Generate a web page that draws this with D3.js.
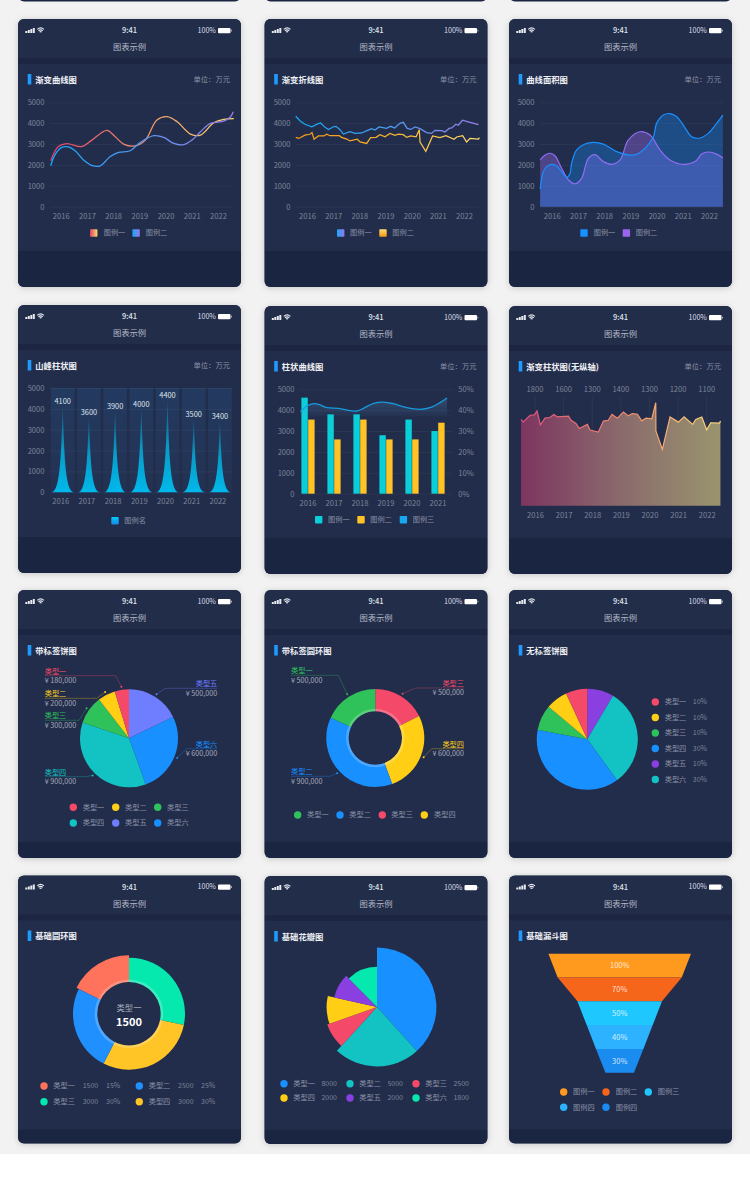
<!DOCTYPE html>
<html>
<head>
<meta charset="utf-8">
<script src="https://cdn.jsdelivr.net/npm/d3@7/dist/d3.min.js"></script>
<style>
html,body{margin:0;padding:0;background:#fff}
svg{display:block}
text{font-family:"Noto Sans CJK SC","Noto Sans",sans-serif}
</style>
</head>
<body>
<div id="canvas"></div>
<script>
// values
const years = [2016,2017,2018,2019,2020,2021,2022]
const yTicks = [0,1000,2000,3000,4000,5000]

const curveAYears = [2015.62,2015.91,2016.23,2016.8,2017.19,2017.76,2018.08,2018.4,2018.84,2019.23,2019.67,2020.06,2020.44,2020.95,2021.33,2021.84,2022.22,2022.6]
const curveAValues = [2200,2880,3020,2880,3190,3660,3350,3000,2910,3190,4150,4310,4070,3480,3430,4020,4180,4220]
const curveBYears = [2015.62,2015.78,2016.04,2016.29,2016.55,2016.87,2017.25,2017.51,2017.89,2018.21,2018.65,2019.04,2019.55,2019.93,2020.31,2020.69,2021.01,2021.33,2021.71,2022.22,2022.48,2022.58]
const curveBValues = [1960,2480,2840,2860,2680,2240,1950,1960,2400,2600,2680,3080,3400,3320,3030,2970,3190,3590,3990,4100,4310,4550]

const foldAYears = [2015.57,2015.73,2015.92,2016.18,2016.43,2016.52,2016.69,2016.82,2017.01,2017.11,2017.26,2017.39,2017.64,2017.83,2018.09,2018.34,2018.47,2018.6,2018.75,2019.04,2019.2,2019.35,2019.55,2019.68,2019.83,2019.96,2020.13,2020.32,2020.57,2020.76,2020.89,2021.15,2021.27,2021.43,2021.53,2021.69,2021.78,2021.94,2022.1,2022.55]
const foldAValues = [4330,4120,3950,3830,3980,4010,3800,3700,3830,3850,3690,3480,3590,3510,3530,3670,3740,3670,3820,3750,3850,3770,3990,4040,3750,3700,3820,3740,3550,3510,3660,3640,3580,3750,3770,3950,3900,4140,4090,3930]
const foldBYears = [2015.57,2015.69,2015.92,2016.11,2016.19,2016.27,2016.43,2016.65,2016.75,2016.88,2017.24,2017.32,2017.52,2017.64,2017.92,2018.03,2018.28,2018.43,2018.64,2018.79,2018.98,2019.17,2019.36,2019.49,2019.68,2019.81,2019.96,2020.17,2020.29,2020.32,2020.54,2020.8,2021.08,2021.31,2021.62,2021.72,2021.95,2022.1,2022.23,2022.55,2022.59]
const foldBValues = [3320,3270,3430,3470,3550,3230,3390,3390,3470,3400,3400,3320,3240,3150,3230,3100,3030,3310,3320,3450,3350,3510,3420,3470,3450,3320,3390,3350,3690,3100,2650,3390,3310,3400,3230,3340,3400,3100,3270,3240,3310]

const areaAYears = [2015.56,2015.68,2015.81,2016,2016.19,2016.38,2016.57,2016.7,2016.76,2016.95,2017.27,2017.59,2017.97,2018.48,2018.92,2019.24,2019.62,2019.88,2020,2020.26,2020.51,2020.77,2021.02,2021.34,2021.66,2021.97,2022.29,2022.53]
const areaAValues = [850,1680,1920,2030,1960,1680,1400,1600,2080,2720,3000,3080,3000,2640,2480,2510,2880,3350,3990,4390,4460,4310,3910,3350,3290,3510,3990,4390]
const areaBYears = [2015.56,2015.75,2015.94,2016.13,2016.38,2016.64,2016.89,2017.14,2017.4,2017.65,2017.97,2018.29,2018.61,2018.92,2019.37,2019.75,2020.13,2020.51,2021.02,2021.47,2021.72,2021.97,2022.29,2022.53]
const areaBValues = [2240,2480,2560,2430,1840,1280,1100,1360,2320,2490,2160,2030,2240,3190,3590,3430,2720,2240,2030,2160,2520,2620,2520,2330]

const peakValues = [4100,3600,3900,4000,4400,3500,3400]

const comboYears = [2016,2017,2018,2019,2020,2021]
const comboA = [4600,3800,3800,2800,3550,3000]
const comboB = [3550,2600,3550,2600,2600,3400]
const comboLineYears = [2015.71,2015.96,2016.22,2016.41,2016.73,2017.17,2017.62,2017.87,2018.12,2018.51,2018.89,2019.27,2019.78,2020.29,2020.73,2021.05,2021.32]
const comboLinePct = [39.3,42,43.1,42.8,41.2,40.9,39.8,39.6,40.9,43.3,43.9,43.1,41.2,40.4,41.5,43.6,45.8]
const pctTicks = [0,10,20,30,40,50]

const gradeTop = ['1800','1600','1300','1400','1300','1200','1100']
const gradeYears = [2015.51,2015.59,2015.83,2015.98,2016.07,2016.19,2016.35,2016.52,2016.66,2016.78,2017.17,2017.26,2017.43,2017.55,2017.83,2017.92,2018.21,2018.39,2018.56,2018.69,2018.88,2019.09,2019.26,2019.4,2019.58,2019.73,2019.88,2020.08,2020.22,2020.225,2020.45,2020.72,2021.01,2021.21,2021.51,2021.62,2021.83,2022,2022.14,2022.45,2022.48]
const gradeValues = [4140,4020,4340,4360,4550,3880,4200,4230,4380,4260,4300,4100,3950,3700,3900,3630,3530,4060,4100,4380,4200,4490,4310,4420,4390,4070,4200,4170,4940,3590,2700,4260,4010,4260,3900,4140,4260,3640,3980,3960,4070]

// shares are what the slices measure in the picture, amounts are what the labels say
const red='#f5496a', yellow='#ffce15', green='#2fc25b', teal='#13c2c2', peri='#6f7dff', blue='#1890ff', purple='#8a40e0', mint='#05e8ae'

const pieNames = ['类型五','类型六','类型四','类型三','类型二','类型一']
const pieShares = [17.8,26.7,35.7,9.3,5.8,4.7]
const pieAmounts = ['¥ 500,000','¥ 600,000','¥ 900,000','¥ 300,000','¥ 200,000','¥ 180,000']
const pieColors = [peri,blue,teal,green,yellow,red]

const ringNames = ['类型三','类型四','类型二','类型一']
const ringShares = [17.6,26.8,37.4,18.2]
const ringAmounts = ['¥ 500,000','¥ 600,000','¥ 900,000','¥ 500,000']
const ringColors = [red,yellow,blue,green]

const plainShares = [8.5,31.5,38,8.1,7,6.9]
const plainColors = [purple,teal,blue,green,yellow,red]
const plainLegend = ['类型一','类型二','类型三','类型四','类型五','类型六']
const plainLegendColors = [red,yellow,green,blue,purple,teal]
const plainLegendPct = ['10%','10%','10%','30%','10%','30%']

const baseShares = [28.2,29.3,24.8,17.7]
const baseColors = [mint,'#ffc425','#2090ff','#ff735c']
const baseReach = [56,56,56,58.5]

const roseShares = [38.3,23.5,7.8,8.9,9.1,12.4]
const roseReach = [99,99,88,84,73,67]
const roseColors = [blue,teal,red,yellow,purple,mint]
const roseLegend = ['类型一','类型二','类型三','类型四','类型五','类型六']
const roseAmounts = ['8000','5000','2500','2000','2000','1800']

const funnelEdges = [100,87,59.3,46.3,33.2,20]
const funnelLabels = ['100%','70%','50%','40%','30%']
const funnelColors = ['#ff9a1f','#f5651a','#1ec8ff','#2db2ff','#1a8cf0']

const width = 750, height = 1180
const dimText = '#8a91a6', tickText = '#7c8499'

const svg = d3.select('#canvas').append('svg').attr('width',width).attr('height',height)
const defs = svg.append('defs')

svg.append('rect').attr('width',width).attr('height',1154).attr('fill','#f2f2f2')

function gradient(id, stops, x1, x2, y1, y2, user){
  const g = defs.append('linearGradient').attr('id',id)
  if(user) g.attr('gradientUnits','userSpaceOnUse')
  g.attr('x1',x1).attr('x2',x2).attr('y1',y1).attr('y2',y2)
  stops.forEach((s,i)=>{
    g.append('stop').attr('offset',i/(stops.length-1)).attr('stop-color',s[0]).attr('stop-opacity',s[1]===undefined?1:s[1])
  })
  return `url(#${id})`
}

function label(x,y,str,opt){
  opt = opt||{}
  return svg.append('text').attr('x',x).attr('y',y-.8).text(str)
    .attr('dominant-baseline','central')
    .attr('text-anchor',opt.anchor||'start')
    .attr('font-size',opt.size||7.5)
    .attr('font-weight',opt.weight||400)
    .attr('fill',opt.fill||dimText)
}

// cut off cards of the row above the picture
;[18,264.5,509].forEach(x=>{
  svg.append('rect').attr('x',x).attr('y',-20).attr('width',223).attr('height',21.5).attr('rx',6).attr('fill','#1a2541')
})

function card(x,y,footerTop,title,unit){
  const id = 'clip'+Math.round(x)+'_'+Math.round(y)
  defs.append('clipPath').attr('id',id).append('rect').attr('x',x).attr('y',y).attr('width',223).attr('height',268).attr('rx',6)
  svg.append('rect').attr('x',x).attr('y',y).attr('width',223).attr('height',268).attr('rx',6)
    .attr('fill','#222d4a').style('filter','drop-shadow(0 1px 3px rgba(0,0,0,.18))')
  const g = svg.append('g').attr('clip-path',`url(#${id})`)
  g.append('rect').attr('x',x).attr('y',y).attr('width',223).attr('height',39).attr('fill','#222d4a')
  g.append('rect').attr('x',x).attr('y',y+39).attr('width',223).attr('height',6).attr('fill','#1c2643')
  g.append('rect').attr('x',x).attr('y',y+45).attr('width',223).attr('height',footerTop-45).attr('fill','#222d4b')
  g.append('rect').attr('x',x).attr('y',y+footerTop).attr('width',223).attr('height',268-footerTop).attr('fill','#1a2541')

  // status bar
  ;[2,3,4,5].forEach((h,i)=>{
    svg.append('rect').attr('x',x+7.3+i*2.5).attr('y',y+14-h).attr('width',2).attr('height',h).attr('fill','#e8eaf0')
  })
  ;[5.6,3.8,2].forEach((r,i)=>{
    svg.append('path').attr('transform',`translate(${x+22.6},${y+14.2})`)
      .attr('d',d3.arc().innerRadius(r-1.1).outerRadius(r).startAngle(-.72).endAngle(.72)())
      .attr('fill','#e8eaf0')
  })
  label(x+111.5,y+11.5,'9:41',{anchor:'middle',size:7.5,weight:500,fill:'#dfe2e9'})
  label(x+198,y+11.5,'100%',{anchor:'end',size:7.2,fill:'#d8dbe3'})
  svg.append('rect').attr('x',x+200).attr('y',y+9).attr('width',12.5).attr('height',5.2).attr('rx',1).attr('fill','#fff')
  svg.append('rect').attr('x',x+213).attr('y',y+10.7).attr('width',.8).attr('height',1.8).attr('fill','#c8ccd6')

  label(x+111.5,y+28,'图表示例',{anchor:'middle',size:8.3,fill:'#b4b9c6'})
  svg.append('rect').attr('x',x+9.7).attr('y',y+55).attr('width',3.6).attr('height',10.5).attr('fill','#1f9bff')
  label(x+17.3,y+60.5,title,{size:8.3,weight:700,fill:'#eef0f4'})
  if(unit) label(x+212,y+60.5,'单位：万元',{anchor:'end',size:7.3})
}

function styleAxis(axis){
  axis.select('.domain').remove()
  axis.selectAll('text').attr('fill',tickText).attr('font-size',7.6).attr('font-family','"Noto Sans CJK SC"')
  return axis
}

function gridY(y,x0,x1){
  const axis = svg.append('g').attr('transform',`translate(${x1},0)`)
    .call(d3.axisLeft(y).tickValues(yTicks).tickFormat(d3.format('d')).tickSize(x1-x0).tickPadding(5.5))
  axis.selectAll('line').attr('stroke','rgba(255,255,255,.045)')
  return styleAxis(axis)
}

function yearAxis(x,base,values){
  const axis = svg.append('g').attr('transform',`translate(0,${base})`)
    .call(d3.axisBottom(x).tickValues(values).tickFormat(d3.format('d')).tickSize(0).tickPadding(6.5))
  return styleAxis(axis)
}

function swatches(items,cy){
  items.forEach(d=>{
    svg.append('rect').attr('x',d[0]).attr('y',cy-3.7).attr('width',7.4).attr('height',7.4).attr('rx',.8).attr('fill',d[1])
    label(d[2],cy,d[3],{size:7.2})
  })
}

function dots(items){
  items.forEach(d=>{
    svg.append('circle').attr('cx',d[0]).attr('cy',d[1]).attr('r',3.7).attr('fill',d[2])
    label(d[3],d[1],d[4],{size:7.2})
  })
}

function zipped(xs,ys){ return xs.map((v,i)=>[v,ys[i]]) }

// 1 gradient curves
card(18,19,232,'渐变曲线图',true)
{
  const x = d3.scaleLinear().domain([2016,2022]).range([60.7,218])
  const y = d3.scaleLinear().domain([0,5000]).range([206.7,102.3])
  gridY(y,50,232.7)
  yearAxis(x,206.7,years)
  const line = d3.line().x(d=>x(d[0])).y(d=>y(d[1])).curve(d3.curveCatmullRom.alpha(.5))
  const gA = gradient('curveA',[['#e0406c'],['#e8906e'],['#ffdc6a']],50,233,0,0,true)
  const gB = gradient('curveB',[['#12a8ff'],['#5a96f0'],['#9a78e6']],50,233,0,0,true)
  svg.append('path').attr('d',line(zipped(curveAYears,curveAValues))).attr('fill','none').attr('stroke',gA).attr('stroke-width',1.3)
  svg.append('path').attr('d',line(zipped(curveBYears,curveBValues))).attr('fill','none').attr('stroke',gB).attr('stroke-width',1.3)
  swatches([[90,gradient('swA',[['#e0406c'],['#ffdc6a']],0,1,0,0),103.7,'图例一'],[132.4,gradient('swB',[['#12a8ff'],['#9a78e6']],0,1,0,0),145.7,'图例二']],233)
}

// 2 gradient polylines
card(264.5,19,232,'渐变折线图',true)
{
  const x = d3.scaleLinear().domain([2016,2022]).range([307,464])
  const y = d3.scaleLinear().domain([0,5000]).range([206.7,102.3])
  gridY(y,296,479.3)
  yearAxis(x,206.7,years)
  const line = d3.line().x(d=>x(d[0])).y(d=>y(d[1]))
  const gA = gradient('foldA',[['#0fa8f5'],['#4b9cf0'],['#9a7ce8']],296,479,0,0,true)
  const gB = gradient('foldB',[['#f59a12'],['#f5b030'],['#ffdd70']],296,479,0,0,true)
  svg.append('path').attr('d',line(zipped(foldAYears,foldAValues))).attr('fill','none').attr('stroke',gA).attr('stroke-width',1.25)
  svg.append('path').attr('d',line(zipped(foldBYears,foldBValues))).attr('fill','none').attr('stroke',gB).attr('stroke-width',1.25)
  swatches([[337,gradient('swC',[['#12a8ff'],['#9a78e6']],0,1,0,0),350,'图例一'],[379.3,gradient('swD',[['#ffdd70'],['#f59a12']],0,0,0,1),392.3,'图例二']],233)
}

// 3 curved areas
card(509,19,232,'曲线面积图',true)
{
  const x = d3.scaleLinear().domain([2016,2022]).range([551.7,709])
  const y = d3.scaleLinear().domain([0,5000]).range([206.7,102.3])
  gridY(y,540,723)
  yearAxis(x,206.7,years)
  const curve = d3.curveCatmullRom.alpha(.5)
  const area = d3.area().x(d=>x(d[0])).y0(y(0)).y1(d=>y(d[1])).curve(curve)
  const line = d3.line().x(d=>x(d[0])).y(d=>y(d[1])).curve(curve)
  const pb = zipped(areaBYears,areaBValues), pa = zipped(areaAYears,areaAValues)
  svg.append('path').attr('d',area(pb)).attr('fill','#9a6cf0').attr('fill-opacity',.38)
  svg.append('path').attr('d',area(pa)).attr('fill','#1890ff').attr('fill-opacity',.33)
  svg.append('path').attr('d',line(pb)).attr('fill','none').attr('stroke','#8f6cf0').attr('stroke-width',1.2)
  svg.append('path').attr('d',line(pa)).attr('fill','none').attr('stroke','#1890ff').attr('stroke-width',1.2)
  swatches([[580.3,'#1890ff',593.7,'图例一'],[622.7,'#9a66f0',635.7,'图例二']],233)
}

// 4 peak bars
card(18,305,232,'山峰柱状图',true)
{
  const band = d3.scaleBand().domain(years).range([49.6,233]).paddingInner(.1).paddingOuter(.05)
  const y = d3.scaleLinear().domain([0,5000]).range([492.3,388])
  const bg = gradient('peakBg',[['#24406a',.7],['#24406a',.22]],0,0,0,1)
  svg.selectAll('.bgbar').data(years).enter().append('rect')
    .attr('x',d=>band(d)).attr('y',y(5000)).attr('width',band.bandwidth()).attr('height',y(0)-y(5000)).attr('fill',bg)
  gridY(y,50,233)
  const axis = svg.append('g').attr('transform','translate(-2,492.3)').call(d3.axisBottom(band).tickSize(0).tickPadding(6.5))
  styleAxis(axis)
  const peakFill = gradient('peakFill',[['#13607f',.85],['#0a9ac6'],['#00b8ea']],0,0,0,1)
  const peak = (cx,top,base,w)=>{
    const p = d3.path()
    p.moveTo(cx-w/2,base)
    p.bezierCurveTo(cx-w*.09,base,cx-w*.07,base-(base-top)*.5,cx,top)
    p.bezierCurveTo(cx+w*.07,base-(base-top)*.5,cx+w*.09,base,cx+w/2,base)
    p.closePath()
    return p.toString()
  }
  svg.selectAll('.peak').data(peakValues).enter().append('path')
    .attr('d',(d,i)=>peak(band(years[i])+band.bandwidth()/2,y(d),y(0),band.bandwidth()*.95))
    .attr('fill',peakFill)
  peakValues.forEach((d,i)=>{
    label(band(years[i])+band.bandwidth()/2,y(d)-5,d,{anchor:'middle',size:7.4,fill:'#dfe3ea'})
  })
  swatches([[111.3,gradient('swE',[['#00c8ff'],['#1a8ae0']],0,0,0,1),124.3,'图例名']],520.7)
}

// 5 bars with a curve
card(264.5,306,232,'柱状曲线图',true)
{
  const band = d3.scaleBand().domain(comboYears).range([295,451]).paddingInner(0).paddingOuter(0)
  const inner = d3.scaleBand().domain([0,1]).range([0,13.2]).paddingInner(.06)
  const y = d3.scaleLinear().domain([0,5000]).range([493.7,389.3])
  const yp = d3.scaleLinear().domain([0,50]).range([493.7,389.3])
  const xl = d3.scaleLinear().domain([2016,2021]).range([308,438.7])
  gridY(y,300,452.3)
  const right = svg.append('g').attr('transform','translate(452.3,0)')
    .call(d3.axisRight(yp).tickValues(pctTicks).tickFormat(d=>d+'%').tickSize(0).tickPadding(6))
  styleAxis(right)
  const axis = svg.append('g').attr('transform','translate(0,493.7)').call(d3.axisBottom(band).tickSize(0).tickPadding(6.5))
  styleAxis(axis)
  ;[[comboA,'#0bcfd8'],[comboB,'#ffc325']].forEach((s,k)=>{
    svg.selectAll('.bar'+k).data(s[0]).enter().append('rect')
      .attr('x',(d,i)=>band(comboYears[i])+band.bandwidth()/2-6.6+inner(k))
      .attr('y',d=>y(d)).attr('width',inner.bandwidth()).attr('height',d=>y(0)-y(d)).attr('fill',s[1])
  })
  const pts = zipped(comboLineYears,comboLinePct)
  const fade = gradient('comboFade',[['#5a9ad0',.28],['#5a9ad0',.04]],0,0,0,1)
  svg.append('path').attr('d',d3.area().x(d=>xl(d[0])).y0(yp(37)).y1(d=>yp(d[1])).curve(d3.curveCatmullRom.alpha(.5))(pts)).attr('fill',fade)
  svg.append('path').attr('d',d3.line().x(d=>xl(d[0])).y(d=>yp(d[1])).curve(d3.curveCatmullRom.alpha(.5))(pts))
    .attr('fill','none').attr('stroke','#169ae0').attr('stroke-width',1.3)
  swatches([[315,'#0bcfd8',328,'图例一'],[357.3,'#ffc325',370.3,'图例二'],[399.7,'#18a8f0',412.7,'图例三']],519.7)
}

// 6 gradient area, no value axis
card(509,306,232,'渐变柱状图(无纵轴)',true)
{
  const x = d3.scaleLinear().domain([2016,2022]).range([535,706.7])
  const y = d3.scaleLinear().domain([0,5000]).range([505.7,401.5])
  svg.selectAll('.vline').data(years).enter().append('line')
    .attr('x1',d=>x(d)).attr('x2',d=>x(d)).attr('y1',397).attr('y2',505.7).attr('stroke','rgba(255,255,255,.05)')
  const pts = zipped(gradeYears,gradeValues)
  const fill = gradient('gradeFill',[['#7d3560'],['#8a6a6c'],['#99946e']],521,720.5,0,0,true)
  const stroke = gradient('gradeLine',[['#e0507a'],['#f08a6c'],['#ffdc78']],521,720.5,0,0,true)
  svg.append('path').attr('d',d3.area().x(d=>x(d[0])).y0(y(0)).y1(d=>y(d[1]))(pts)).attr('fill',fill)
  svg.append('path').attr('d',d3.line().x(d=>x(d[0])).y(d=>y(d[1]))(pts)).attr('fill','none').attr('stroke',stroke).attr('stroke-width',1.2)
  yearAxis(x,505.7,years)
  years.forEach((d,i)=>label(x(d),388.8,gradeTop[i],{anchor:'middle',size:7.6,fill:tickText}))
}

function slices(cx,cy,shares,colors,inner,outer){
  const pie = d3.pie().sort(null).value(d=>d)(shares)
  const g = svg.append('g').attr('transform',`translate(${cx},${cy})`)
  g.selectAll('path').data(pie).enter().append('path')
    .attr('d',(d,i)=>d3.arc().innerRadius(inner).outerRadius(typeof outer==='function'?outer(i):outer)(d))
    .attr('fill',(d,i)=>colors[i])
  return {g,pie,cx,cy}
}

function ringGlow(g,inner){
  g.append('path').attr('d',d3.arc().innerRadius(inner).outerRadius(inner+2.6).startAngle(0).endAngle(Math.PI*2)())
    .attr('fill','rgba(255,255,255,.22)')
}

function callouts(res,outer,names,amounts,colors,layout){
  const arc = d3.arc().innerRadius(outer+3).outerRadius(outer+3)
  res.pie.forEach((d,i)=>{
    const c = arc.centroid(d), l = layout[i]
    const dx = c[0]+res.cx, dy = c[1]+res.cy
    svg.append('path').attr('d',d3.line()([[dx,dy],[l[2],l[1]],[l[0],l[1]]])).attr('fill','none').attr('stroke',colors[i]).attr('stroke-opacity',.45).attr('stroke-width',.7)
    svg.append('circle').attr('cx',dx).attr('cy',dy).attr('r',1).attr('fill',colors[i])
    const anchor = l[3]
    label(l[0],l[1]-4.2,names[i],{anchor,size:7.2,fill:colors[i]})
    label(l[0],l[1]+5.2,amounts[i],{anchor,size:7.2,fill:'#a4aaba'})
  })
}

// 7 labelled pie
card(18,590,252,'带标签饼图',false)
{
  const res = slices(129,738.3,pieShares,pieColors,0,49)
  callouts(res,49,pieNames,pieAmounts,pieColors,[
    [217.3,688.3,165,'end'],[217.3,748.7,186.7,'end'],[44.7,776.7,85,'start'],
    [44.7,720.3,79,'start'],[44.7,698.3,96.7,'start'],[44.7,675.7,115.7,'start']])
  dots([[73.3,807.3,red,82.7,'类型一'],[115.7,807.3,yellow,125,'类型二'],[157.7,807.3,green,167,'类型三'],
    [73.3,823,teal,82.7,'类型四'],[115.7,823,peri,125,'类型五'],[157.7,823,blue,167,'类型六']])
}

// 8 labelled donut
card(264.5,590,252,'带标签圆环图',false)
{
  const res = slices(375.3,738,ringShares,ringColors,26.7,49)
  ringGlow(res.g,26.7)
  callouts(res,49,ringNames,ringAmounts,ringColors,[
    [464,688,415.7,'end'],[464,748.7,431.7,'end'],[291,776.3,330,'start'],[291,675.3,338.3,'start']])
  dots([[297.7,815,green,307,'类型一'],[340,815,blue,349.3,'类型二'],[382.3,815,red,391.3,'类型三'],[424.3,815,yellow,434,'类型四']])
}

// 9 pie without callouts
card(509,590,252,'无标签饼图',false)
{
  slices(587.3,739.3,plainShares,plainColors,0,50.5)
  plainLegend.forEach((n,i)=>{
    const cy = 702+i*15.5
    svg.append('circle').attr('cx',655.3).attr('cy',cy).attr('r',3.7).attr('fill',plainLegendColors[i])
    label(664.7,cy,n,{size:7.2})
    label(707,cy,plainLegendPct[i],{anchor:'end',size:7,fill:tickText})
  })
}

// 10 basic donut
card(18,875.5,254,'基础圆环图',false)
{
  const res = slices(129,1013.7,baseShares,baseColors,31.7,i=>baseReach[i])
  ringGlow(res.g,31.7)
  label(129,1007.3,'类型一',{anchor:'middle',size:8.3,fill:'#aab0be'})
  label(129,1022,'1500',{anchor:'middle',size:11,weight:700,fill:'#fff'})
  const rows = [[44,1086,'#ff735c','类型一','1500','15%',53.3,82.7,106],[139.3,1086,'#2090ff','类型二','2500','25%',148.7,178,201],
    [44,1101.7,mint,'类型三','3000','30%',53.3,82.7,106],[139.3,1101.7,'#ffc425','类型四','3000','30%',148.7,178,201]]
  rows.forEach(r=>{
    svg.append('circle').attr('cx',r[0]).attr('cy',r[1]).attr('r',3.7).attr('fill',r[2])
    label(r[6],r[1],r[3],{size:7.2})
    label(r[7],r[1],r[4],{size:7,fill:tickText})
    label(r[8],r[1],r[5],{size:7,fill:tickText})
  })
}

// 11 rose
card(264.5,876,254,'基础花瓣图',false)
{
  const reach = d3.scaleLinear().domain([0,100]).range([0,60])
  slices(377,1007,roseShares,roseColors,0,i=>reach(roseReach[i]))
  roseLegend.forEach((n,i)=>{
    const col = i%3, row = Math.floor(i/3)
    const cx = 284+col*66, cy = 1083.7+row*14.3
    svg.append('circle').attr('cx',cx).attr('cy',cy).attr('r',3.7).attr('fill',roseColors[i])
    label(cx+9.3,cy,n,{size:7.2})
    label(cx+53,cy,roseAmounts[i],{anchor:'end',size:7,fill:tickText})
  })
}

// 12 funnel
card(509,875.5,254,'基础漏斗图',false)
{
  const half = d3.scaleLinear().domain([0,100]).range([0,71.3])
  const layer = d3.scaleBand().domain(funnelLabels).range([953.7,1072.7])
  const cx = 619.7
  svg.selectAll('.funnel').data(funnelLabels).enter().append('path')
    .attr('d',(d,i)=>{
      const t = layer(d), b = t+layer.bandwidth()
      return d3.line()([[cx-half(funnelEdges[i]),t],[cx+half(funnelEdges[i]),t],[cx+half(funnelEdges[i+1]),b],[cx-half(funnelEdges[i+1]),b]])+'Z'
    })
    .attr('fill',(d,i)=>funnelColors[i])
  funnelLabels.forEach(d=>{
    label(cx,layer(d)+layer.bandwidth()/2,d,{anchor:'middle',size:7.5,fill:'rgba(255,255,255,.8)'})
  })
  dots([[563.7,1092,funnelColors[0],573,'图例一'],[606,1092,funnelColors[1],615.7,'图例二'],[648.3,1092,funnelColors[2],657.7,'图例三'],
    [563.7,1107.3,funnelColors[3],573,'图例四'],[606,1107.3,funnelColors[4],615.7,'图例四']])
}
</script>
</body>
</html>
